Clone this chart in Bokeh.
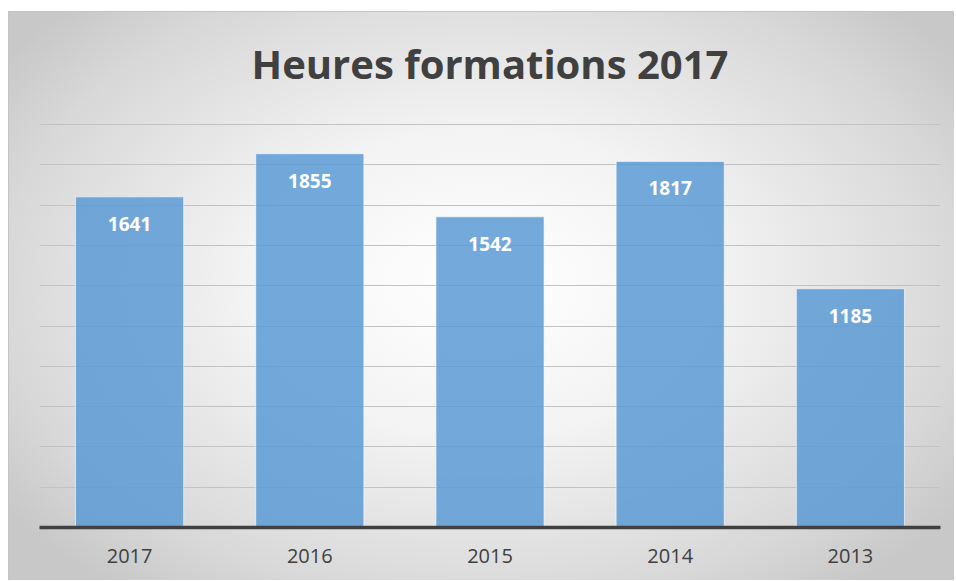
from bokeh.plotting import figure
from bokeh.models import ColumnDataSource, LabelSet, FixedTicker, Range1d
from bokeh.core.properties import value
from bokeh.embed import file_html
from bokeh.resources import INLINE

title_text = "Heures formations 2017"
years = ["2017", "2016", "2015", "2014", "2013"]
hours = [1641, 1855, 1542, 1817, 1185]
labels = [str(h) for h in hours]
grid_ticks = [200, 400, 600, 800, 1000, 1200, 1400, 1600, 1800, 2000]

src = ColumnDataSource(data=dict(years=years, hours=hours, labels=labels))

p = figure(x_range=years, y_range=Range1d(0, 2010), width=946, height=578,
           output_backend="svg", toolbar_location=None,
           min_border_left=31, min_border_right=14, min_border_top=0, min_border_bottom=53)

p.styles = {
    "position": "absolute",
    "left": "8px",
    "top": "2px",
    "background": (
        "linear-gradient(#ffffff, #ffffff) 0 0 / 100% 9px no-repeat, "
        "linear-gradient(#c4c4c4, #c4c4c4) 0 9px / 100% 1px no-repeat, "
        "linear-gradient(#c4c4c4, #c4c4c4) 0 9px / 1px 100% no-repeat, "
        "radial-gradient(ellipse 62% 68% at 50% 48%, #ffffff 0%, #f3f3f3 40%, #d8d8d8 82%, #c8c8c8 100%) 0 9px / 100% 569px no-repeat"
    ),
}
p.border_fill_alpha = 0
p.background_fill_alpha = 0
p.outline_line_color = None

p.title.text = title_text
p.title.align = "center"
p.title.text_font = "Open Sans"
p.title.text_font_style = "bold"
p.title.text_font_size = "40px"
p.title.text_color = "#404040"
p.title.standoff = 63
p.title.offset = 0

p.vbar(x="years", top="hours", width=0.6, source=src,
       fill_color="#5b9bd5", fill_alpha=0.85, line_color="#ffffff", line_alpha=0.6, line_width=1)

lbl = LabelSet(x="years", y="hours", text="labels", source=src, y_offset=-27,
               text_align="center", text_baseline="middle", text_color="white",
               text_font=value("Open Sans"), text_font_style="bold", text_font_size="19px")
p.add_layout(lbl)

p.yaxis.visible = False
p.xgrid.grid_line_color = None
p.ygrid.ticker = FixedTicker(ticks=grid_ticks)
p.ygrid.grid_line_color = "#c2c2c2"
p.ygrid.grid_line_width = 1
p.ygrid.level = "underlay"

p.xaxis.axis_line_color = "#404040"
p.xaxis.axis_line_width = 3.5
p.xaxis.major_tick_line_color = None
p.xaxis.minor_tick_line_color = None
p.xaxis.major_label_text_font = "Open Sans"
p.xaxis.major_label_text_font_size = "20px"
p.xaxis.major_label_text_color = "#404040"
p.xaxis.major_label_standoff = 15
p.x_range.range_padding = 0

open("out.html", "w").write(file_html(p, INLINE))
